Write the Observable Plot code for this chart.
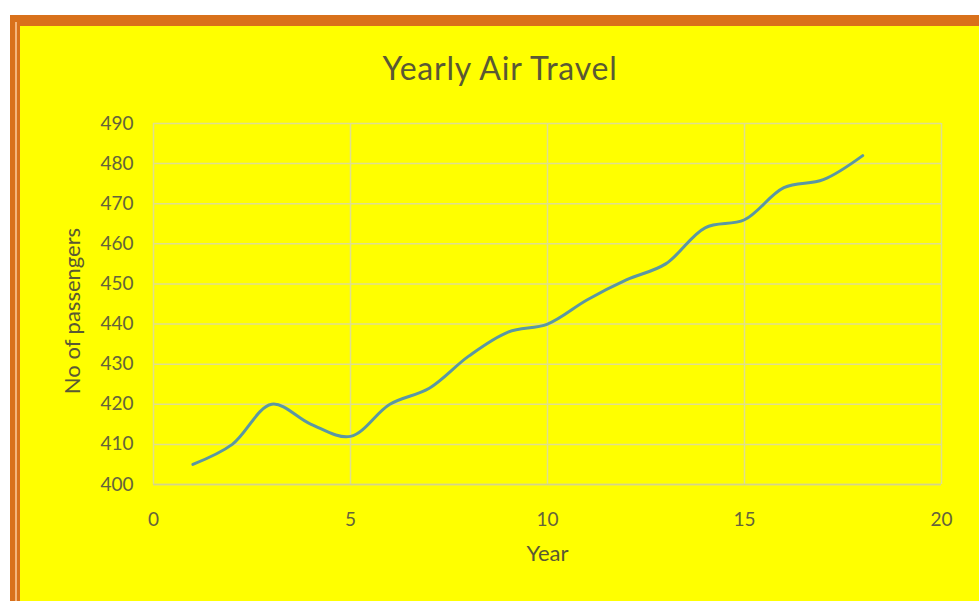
<!DOCTYPE html>
<html>
<head>
<meta charset="utf-8">
<script src="https://cdn.jsdelivr.net/npm/d3@7"></script>
<script src="https://cdn.jsdelivr.net/npm/@observablehq/plot@0.6"></script>
<style>
  html, body { margin: 0; padding: 0; background: #ffffff; }
  #page { position: relative; width: 979px; height: 601px; overflow: hidden; background: #ffffff; }
  #frame {
    position: absolute; left: 10px; top: 15px; width: 1000px; height: 620px;
    border-top: 11px solid #d9711b; border-left: 10px solid #d9711b;
    background: #ffff00; box-sizing: border-box;
  }
  #stripe { position: absolute; left: 15px; top: 22px; width: 2px; height: 600px; background: #f4b57c; }
  #title {
    position: absolute; left: 0; top: 48px; width: 1000px; text-align: center;
    font-family: Lato, sans-serif; font-size: 32px; letter-spacing: 0.8px; color: #5a5934;
  }
  #chart { position: absolute; left: 0; top: 0; }
</style>
</head>
<body>
<div id="page">
  <div id="frame"></div>
  <div id="stripe"></div>
  <div id="title">Yearly Air Travel</div>
  <div id="chart"></div>
</div>
<script>
// Passengers per year
const years = [1, 2, 3, 4, 5, 6, 7, 8, 9, 10, 11, 12, 13, 14, 15, 16, 17, 18];
const passengers = [405, 410, 420, 415, 412, 420, 424, 432, 438, 440, 446, 451, 455, 464, 466, 474, 476, 482];
const xTicks = [0, 5, 10, 15, 20];
const yTicks = [400, 410, 420, 430, 440, 450, 460, 470, 480, 490];

const data = years.map((y, i) => ({year: y, value: passengers[i]}));

const gridColor = "#dfdf8e";
const textColor = "#5a5934";

const chart = Plot.plot({
  width: 979,
  height: 601,
  marginLeft: 153,
  marginRight: 38,
  marginTop: 123,
  marginBottom: 117,
  style: {background: "transparent", fontFamily: "Lato, sans-serif", color: textColor, overflow: "visible"},
  x: {domain: [0, 20]},
  y: {domain: [400, 490]},
  marks: [
    Plot.gridX(xTicks, {stroke: gridColor, strokeOpacity: 1, strokeWidth: 1.5}),
    Plot.gridY(yTicks, {stroke: gridColor, strokeOpacity: 1, strokeWidth: 1.5}),
    Plot.ruleY([400], {stroke: "#d4d488", strokeWidth: 1.5}),
    Plot.axisX(xTicks, {tickSize: 0, tickPadding: 28, fontSize: 19, fill: "#64633c", label: null}),
    Plot.axisY(yTicks, {tickSize: 0, tickPadding: 20, fontSize: 19, fill: "#64633c", label: null}),
    Plot.text(["Year"], {frameAnchor: "bottom", lineAnchor: "middle", dy: 69, fontSize: 22, fill: textColor}),
    Plot.text(["No of passengers"], {frameAnchor: "left", textAnchor: "middle", lineAnchor: "middle", dx: -81, dy: 7, rotate: -90, fontSize: 22, fill: textColor}),
    Plot.line(data, {x: "year", y: "value", curve: "catmull-rom", stroke: "#5b97a3", strokeWidth: 3})
  ]
});
document.getElementById("chart").appendChild(chart);
</script>
</body>
</html>
